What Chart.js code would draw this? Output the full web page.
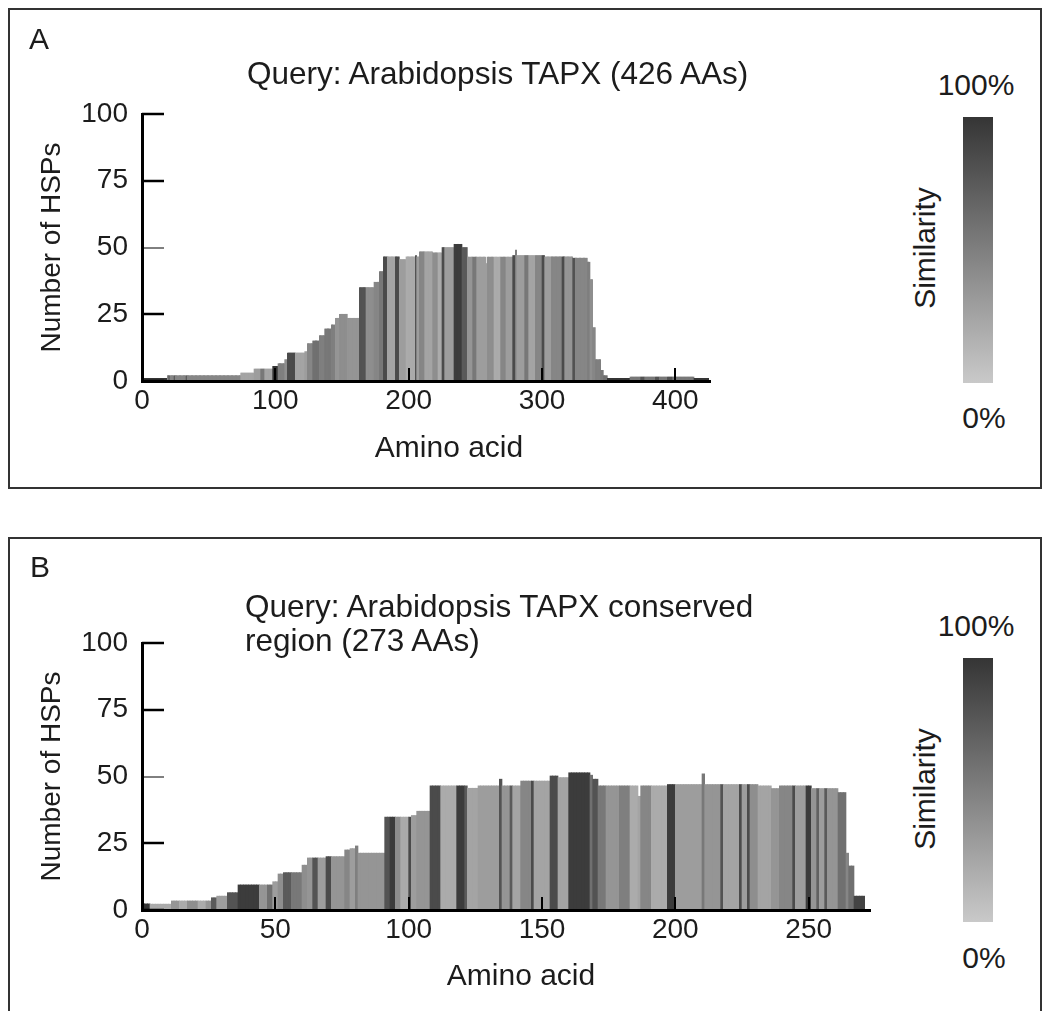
<!DOCTYPE html>
<html>
<head>
<meta charset="utf-8">
<script src="https://cdn.jsdelivr.net/npm/chart.js@4.4.1/dist/chart.umd.min.js"></script>
<style>
  body { margin: 0; background: #fff; }
  #page { position: relative; width: 1049px; height: 1011px; overflow: hidden;
          font-family: "Liberation Sans", Arial, sans-serif; color: #1c1c1c; }
  .box { position: absolute; border: 2px solid #333; box-sizing: border-box; }
  .txt { position: absolute; white-space: nowrap; line-height: 1; transform: translate(-50%, -50%); }
  .left { transform: translate(0, -50%); }
  .rot { transform: translate(-50%, -50%) rotate(-90deg); }
  canvas { position: absolute; left: 0; }
  .cbar { position: absolute; width: 30px; background: linear-gradient(#353535, #c9c9c9); }
</style>
</head>
<body>
<div id="page">
  <div class="box" style="left:8px; top:8px; width:1034px; height:481px;"></div>
  <div class="box" style="left:8px; top:537px; width:1034px; height:500px;"></div>

  <canvas id="chartA" width="740" height="480" style="top:0px;"></canvas>
  <canvas id="chartB" width="900" height="480" style="top:529px;"></canvas>

  <div class="txt" style="left:39px; top:39px; font-size:30px;">A</div>
  <div class="txt left" style="left:247px; top:74px; font-size:31.5px;">Query: Arabidopsis TAPX (426 AAs)</div>
  <div class="txt" style="left:449px; top:447px; font-size:30px;">Amino acid</div>
  <div class="txt" style="left:976px; top:85px; font-size:30px;">100%</div>
  <div class="cbar" style="left:963px; top:117px; height:266px;"></div>
  <div class="txt" style="left:984px; top:418px; font-size:30px;">0%</div>
  <div class="txt rot" style="left:925px; top:248px; font-size:30px;">Similarity</div>

  <div class="txt" style="left:40px; top:567px; font-size:30px;">B</div>
  <div class="txt left" style="left:245px; top:623px; font-size:31.5px; line-height:34px;">Query: Arabidopsis TAPX conserved<br>region (273 AAs)</div>
  <div class="txt" style="left:521px; top:975px; font-size:30px;">Amino acid</div>
  <div class="txt" style="left:976px; top:626px; font-size:30px;">100%</div>
  <div class="cbar" style="left:963px; top:658px; height:264px;"></div>
  <div class="txt" style="left:984px; top:958px; font-size:30px;">0%</div>
  <div class="txt rot" style="left:925px; top:789px; font-size:30px;">Similarity</div>
</div>
<script>
// Panel A: runs of residues (first residue of run, number of HSPs, similarity %)
const runStartA = [1, 20, 21, 22, 25, 26, 34, 35, 75, 85, 90, 93, 99, 103, 108, 110, 116, 123, 125, 129,
  134, 138, 143, 146, 149, 155, 164, 169, 175, 179, 182, 185, 191, 194, 199, 206, 207, 209, 213, 219,
  223, 226, 228, 235, 241, 245, 249, 252, 259, 260, 265, 270, 274, 279, 281, 282, 288, 291, 296, 301,
  303, 308, 316, 318, 324, 326, 335, 337, 339, 341, 345, 347, 350, 367, 375, 378, 386, 389, 395, 399, 415];
const runHeightA = [1, 2, 2, 2, 2, 2, 2, 2, 3, 4.5, 4.5, 4.5, 5.5, 6.5, 8, 10.5, 10.5, 11, 14, 15,
  17, 19.5, 21, 23.5, 25, 23.5, 35, 35, 37, 41, 46.5, 46.5, 46.5, 45.5, 46.5, 47, 46.5, 48.4, 48.4, 48,
  48, 50, 50, 51.2, 50, 46.4, 46.4, 46.4, 44, 46.4, 46.4, 46.4, 46.4, 47, 49, 47, 47, 47, 47, 47,
  46.5, 46.5, 46.5, 46.5, 46, 46, 44.5, 38, 20, 8, 4, 2, 1, 1.5, 1.5, 1.5, 1.5, 1.5, 1.5, 1.5, 1];
const runSimA = [100, 45, 75, 45, 75, 45, 75, 45, 25, 30, 55, 25, 100, 50, 40, 85, 25, 30, 45, 60,
  50, 55, 50, 35, 40, 35, 80, 40, 45, 55, 85, 25, 85, 30, 20, 80, 30, 45, 25, 40,
  20, 85, 30, 95, 75, 35, 55, 30, 30, 40, 20, 45, 30, 85, 50, 30, 55, 25, 45, 85,
  30, 45, 85, 35, 80, 45, 50, 40, 45, 50, 55, 60, 100, 55, 80, 55, 80, 55, 80, 55, 100];
const lastResidueA = 425;
const axisLengthA = 426;
const xTicksA = [0, 100, 200, 300, 400];

// Panel B: conserved region
const runStartB = [1, 4, 12, 15, 18, 22, 25, 27, 29, 33, 37, 45, 48, 50, 52, 54, 57, 61, 63, 65,
  67, 70, 72, 77, 79, 81, 82, 92, 94, 96, 98, 101, 102, 104, 109, 113, 119, 122, 123, 127,
  135, 136, 139, 140, 143, 147, 148, 154, 157, 161, 169, 170, 172, 175, 180, 184, 187, 188, 192, 198,
  201, 211, 212, 218, 219, 225, 226, 228, 229, 232, 237, 240, 245, 246, 250, 252, 254, 255, 257, 258,
  262, 265, 266, 268];
const runHeightB = [2.3, 2.2, 3.4, 3.4, 3.4, 3.4, 3.4, 4.6, 5.2, 6.5, 9.4, 9.4, 9.4, 10.6, 13.5, 14, 14, 16.8, 19.5, 19.5,
  19.5, 20, 20, 22.5, 23, 24, 21.3, 34.8, 34.8, 34.8, 34.8, 34.8, 35.4, 37, 46.5, 46.5, 46.5, 46.5, 45.6, 46.5,
  49, 46.5, 46.5, 46.5, 48.3, 48.3, 48.3, 50.2, 49.6, 51.4, 50.5, 49, 46.5, 46.5, 46.5, 46.5, 42.6, 46.5, 46.5, 47,
  47, 51, 47, 47, 47, 47, 47, 47, 47, 46.5, 45.5, 46.5, 46.5, 46.5, 46.5, 45.5, 45.5, 45.5, 45.5, 45.5,
  44, 21.3, 16.5, 5.2];
const runSimB = [100, 20, 35, 20, 40, 20, 35, 75, 30, 80, 95, 35, 60, 30, 40, 75, 55, 40, 35, 80,
  30, 85, 35, 45, 30, 50, 35, 80, 95, 40, 20, 85, 30, 35, 85, 20, 95, 75, 25, 30,
  80, 35, 75, 25, 45, 85, 25, 85, 25, 95, 60, 80, 55, 35, 50, 20, 25, 45, 20, 95,
  30, 55, 35, 80, 25, 85, 30, 85, 40, 25, 35, 45, 85, 30, 95, 35, 70, 30, 75, 35,
  60, 45, 60, 90];
const lastResidueB = 271;
const axisLengthB = 273;
const xTicksB = [0, 50, 100, 150, 200, 250];

const yTicks = [0, 25, 50, 75, 100];
const fontFamily = '"Liberation Sans", Arial, sans-serif';
const textColor = '#1c1c1c';

// similarity 0% -> light grey, 100% -> dark grey (same ramp as the colour bar)
function simToGrey(s) {
    const g = Math.round(201 - (201 - 53) * s / 100);
    return 'rgb(' + g + ',' + g + ',' + g + ')';
}

function expandRuns(starts, heights, sims, last) {
    const points = [];
    const colors = [];
    for (let i = 0; i < starts.length; i++) {
        const end = i + 1 < starts.length ? starts[i + 1] - 1 : last;
        for (let aa = starts[i]; aa <= end; aa++) {
            points.push({ x: aa - 0.5, y: heights[i] });
            colors.push(simToGrey(sims[i]));
        }
    }
    return { points, colors };
}

// tick marks in this figure point into the plot, so they are drawn here
const innerTicks = {
    id: 'innerTicks',
    afterDraw(chart) {
        const { ctx, chartArea, scales } = chart;
        ctx.save();
        ctx.strokeStyle = '#000';
        scales.x.ticks.forEach(t => {
            const px = Math.round(scales.x.getPixelForValue(t.value));
            ctx.lineWidth = 2;
            ctx.beginPath();
            ctx.moveTo(px, chartArea.bottom);
            ctx.lineTo(px, chartArea.bottom - 13);
            ctx.stroke();
        });
        scales.y.ticks.forEach(t => {
            const py = Math.round(scales.y.getPixelForValue(t.value));
            ctx.lineWidth = t.value === 50 ? 1 : 2.5;
            ctx.beginPath();
            ctx.moveTo(chartArea.left, py);
            ctx.lineTo(chartArea.left + 22, py);
            ctx.stroke();
        });
        ctx.restore();
    }
};

function createPanel(canvasId, series, axisLength, xTicks, rightPad) {
    const ctx = document.getElementById(canvasId).getContext('2d');
    return new Chart(ctx, {
        type: 'bar',
        data: {
            datasets: [{
                data: series.points,
                backgroundColor: series.colors,
                borderWidth: 0,
                categoryPercentage: 1,
                barPercentage: 1
            }]
        },
        options: {
            responsive: false,
            animation: false,
            events: [],
            layout: { padding: { top: 114, right: rightPad, bottom: 0, left: 0 } },
            plugins: { legend: { display: false }, tooltip: { enabled: false } },
            scales: {
                x: {
                    type: 'linear',
                    min: 0,
                    max: axisLength,
                    offset: false,
                    afterBuildTicks: scale => { scale.ticks = xTicks.map(v => ({ value: v })); },
                    ticks: { color: textColor, padding: 3, maxRotation: 0, font: { family: fontFamily, size: 28 } },
                    grid: { display: false, drawTicks: false },
                    border: { display: true, color: '#000', width: 3, z: 1 },
                    afterFit: scale => { scale.height = 99; }
                },
                y: {
                    min: 0,
                    max: 100,
                    afterBuildTicks: scale => { scale.ticks = yTicks.map(v => ({ value: v })); },
                    ticks: { color: textColor, padding: 14, font: { family: fontFamily, size: 28 } },
                    grid: { display: false, drawTicks: false },
                    border: { display: true, color: '#000', width: 3, z: 1 },
                    title: {
                        display: true,
                        text: 'Number of HSPs',
                        color: textColor,
                        font: { family: fontFamily, size: 28 },
                        padding: { top: 35, bottom: 0 }
                    },
                    afterFit: scale => { scale.width = 142; }
                }
            }
        },
        plugins: [innerTicks]
    });
}

createPanel('chartA', expandRuns(runStartA, runHeightA, runSimA, lastResidueA), axisLengthA, xTicksA, 30);
createPanel('chartB', expandRuns(runStartB, runHeightB, runSimB, lastResidueB), axisLengthB, xTicksB, 30);
</script>
</body>
</html>
